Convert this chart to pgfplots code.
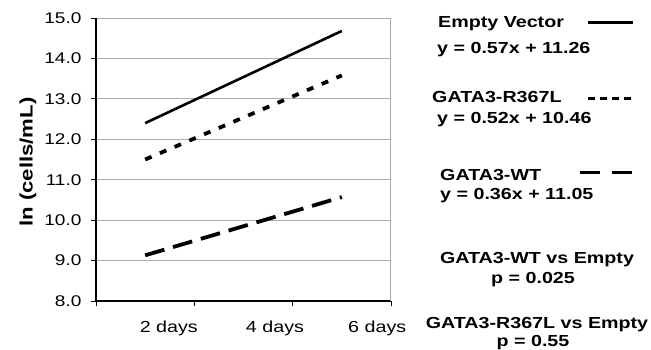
\documentclass[border=0pt]{standalone}
\usepackage{pgfplots}
\pgfplotsset{compat=1.18}
\usepackage{fontspec}
\setmainfont{Liberation Sans}[FakeStretch=1.23]
\pgfplotstableread{
x y
0.5 12.40
1.5 13.54
2.5 14.68
}\emptyvec
\pgfplotstableread{
x y
0.5 11.50
1.5 12.54
2.5 13.58
}\rmut
\pgfplotstableread{
x y
0.5 9.13
1.5 9.85
2.5 10.57
}\wt
\begin{document}
\begin{tikzpicture}[x=1pt,y=1pt]
\begin{axis}[
  at={(96pt,47pt)}, anchor=south west, scale only axis,
  width=295pt, height=283pt,
  xmin=0, xmax=3, ymin=8, ymax=15,
  axis lines=left, axis line style={-, black, line width=1.5pt},
  xtick={0,1,2,3}, xticklabels={},
  extra x ticks={0.74,1.82,2.86},
  extra x tick labels={2 days,4 days,6 days},
  extra x tick style={major tick length=0pt, xmajorgrids=false,
     tick label style={anchor=base, yshift=-31pt}},
  ytick={8,9,...,15},
  tick align=outside, major tick length=5pt,
  tick style={black, line width=0.8pt},
  ymajorgrids, grid style={gray!65, line width=1pt},
  /pgf/number format/fixed, /pgf/number format/fixed zerofill,
  /pgf/number format/precision=1, /pgf/number format/assume math mode=true,
  yticklabel style={font=\fontsize{15.5}{15.5}\selectfont, xshift=-6pt},
  xticklabel style={font=\fontsize{16}{16}\selectfont},
  clip=false,
]
\draw[gray!65, line width=1pt] (axis cs:3,8) -- (axis cs:3,15);
\addplot[black, line width=2.6pt] table[x=x,y=y] {\emptyvec};
\addplot[black, line width=3.8pt, dash pattern=on 7pt off 9pt] table[x=x,y=y] {\rmut};
\addplot[black, line width=3.8pt, dash pattern=on 20pt off 9pt] table[x=x,y=y] {\wt};
\end{axis}
\node[rotate=90, font=\bfseries\fontsize{18}{18}\selectfont] at (28pt,186pt) {ln (cells/mL)};
\begin{scope}[every node/.style={font=\bfseries\fontsize{16}{16}\selectfont, inner sep=0pt}]
\node[anchor=base west] at (438pt,321pt) {Empty Vector};
\node[anchor=base west] at (437pt,295pt) {y = 0.57x + 11.26};
\node[anchor=base west] at (432pt,246pt) {GATA3-R367L};
\node[anchor=base west] at (437pt,225pt) {y = 0.52x + 10.46};
\node[anchor=base west] at (440pt,168pt) {GATA3-WT};
\node[anchor=base west] at (440pt,149pt) {y = 0.36x + 11.05};
\node[anchor=base] at (537pt,85pt) {GATA3-WT vs Empty};
\node[anchor=base] at (533pt,65pt) {p = 0.025};
\node[anchor=base] at (537pt,20pt) {GATA3-R367L vs Empty};
\node[anchor=base] at (533pt,2pt) {p = 0.55};
\end{scope}
\draw[black, line width=3pt] (588pt,326pt) -- (633pt,326pt);
\draw[black, line width=3pt, dash pattern=on 7pt off 5pt] (588pt,250pt) -- (633pt,250pt);
\draw[black, line width=3pt, dash pattern=on 20pt off 12pt] (580pt,176pt) -- (633pt,176pt);
\useasboundingbox (0,0) rectangle (651pt,348pt);
\end{tikzpicture}
\end{document}
